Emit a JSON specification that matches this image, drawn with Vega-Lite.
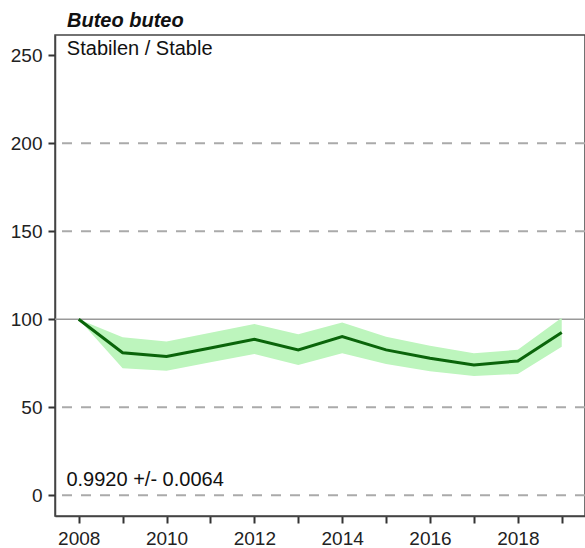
{
  "$schema": "https://vega.github.io/schema/vega-lite/v6.json",
  "width": 530,
  "height": 481,
  "autosize": "none",
  "padding": {"left": 55, "top": 35, "right": 0, "bottom": 32},
  "background": "white",
  "config": {
    "font": "Liberation Sans",
    "view": {"stroke": "#444", "strokeWidth": 1.5},
    "style": {"guide-label": {"fontSize": 19, "font": "Liberation Sans", "fill": "#222"}}
  },
  "title": {"text": "Buteo buteo", "anchor": "start", "frame": "group", "fontStyle": "italic", "fontWeight": "bold", "fontSize": 20, "font": "Liberation Sans", "color": "#111", "dx": 12, "offset": 4},
  "datasets": {
    "trend": [
      {"year": 2008, "index": 100, "lower": 100, "upper": 100},
      {"year": 2009, "index": 81.0, "lower": 72.2, "upper": 89.8},
      {"year": 2010, "index": 78.8, "lower": 70.8, "upper": 87.3},
      {"year": 2011, "index": 83.7, "lower": 75.5, "upper": 92.3},
      {"year": 2012, "index": 88.6, "lower": 80.3, "upper": 97.3},
      {"year": 2013, "index": 82.6, "lower": 74.0, "upper": 91.5},
      {"year": 2014, "index": 90.1, "lower": 80.7, "upper": 98.2},
      {"year": 2015, "index": 82.6, "lower": 74.5, "upper": 90.0},
      {"year": 2016, "index": 77.8, "lower": 70.5, "upper": 85.0},
      {"year": 2017, "index": 74.0, "lower": 67.8, "upper": 80.7},
      {"year": 2018, "index": 76.3, "lower": 68.9, "upper": 82.6},
      {"year": 2019, "index": 92.4, "lower": 84.4, "upper": 100.8}
    ],
    "dashedGrid": [{"value": 0}, {"value": 50}, {"value": 150}, {"value": 200}],
    "solidGrid": [{"value": 100}]
  },
  "layer": [
    {
      "data": {"name": "dashedGrid"},
      "mark": {"type": "rule", "color": "#aaaaaa", "strokeWidth": 2, "strokeDash": [10, 9]},
      "encoding": {"y": {"field": "value", "type": "quantitative", "scale": {"domain": [-11.8, 261.5], "nice": false, "zero": false},
              "axis": {"values": [0, 50, 100, 150, 200, 250], "labelPadding": 6, "labelFontSize": 19, "labelFont": "Liberation Sans", "labelColor": "#222", "domainColor": "#444", "domainWidth": 1.5, "tickColor": "#333", "tickWidth": 2, "tickSize": 7, "grid": false, "title": null}}}
    },
    {
      "data": {"name": "solidGrid"},
      "mark": {"type": "rule", "color": "#999999", "strokeWidth": 1.5},
      "encoding": {"y": {"field": "value", "type": "quantitative"}}
    },
    {
      "data": {"name": "trend"},
      "mark": {"type": "area", "color": "#bdf5bd", "opacity": 1},
      "encoding": {
        "x": {"field": "year", "type": "quantitative", "scale": {"domain": [2007.46, 2019.53], "nice": false, "zero": false},
              "axis": {"values": [2008, 2009, 2010, 2011, 2012, 2013, 2014, 2015, 2016, 2017, 2018, 2019], "labelExpr": "datum.value % 2 == 0 ? datum.label : ''", "format": "d", "labelPadding": 6, "labelFontSize": 19, "labelFont": "Liberation Sans", "labelColor": "#222", "domainColor": "#444", "domainWidth": 1.5, "tickColor": "#333", "tickWidth": 2, "tickSize": 7, "grid": false, "title": null}},
        "y": {"field": "lower", "type": "quantitative"},
        "y2": {"field": "upper"}
      }
    },
    {
      "data": {"name": "trend"},
      "mark": {"type": "line", "color": "#0a640a", "strokeWidth": 3},
      "encoding": {
        "x": {"field": "year", "type": "quantitative"},
        "y": {"field": "index", "type": "quantitative"}
      }
    },
    {
      "data": {"values": [{"label": "Stabilen / Stable"}]},
      "mark": {"type": "text", "align": "left", "baseline": "alphabetic", "fontSize": 20, "font": "Liberation Sans", "color": "#111"},
      "encoding": {
        "x": {"datum": 2007.73, "type": "quantitative"},
        "y": {"datum": 250, "type": "quantitative"},
        "text": {"field": "label"}
      }
    },
    {
      "data": {"values": [{"label": "0.9920 +/- 0.0064"}]},
      "mark": {"type": "text", "align": "left", "baseline": "alphabetic", "fontSize": 20, "font": "Liberation Sans", "color": "#111"},
      "encoding": {
        "x": {"datum": 2007.72, "type": "quantitative"},
        "y": {"datum": 5.5, "type": "quantitative"},
        "text": {"field": "label"}
      }
    }
  ]
}
